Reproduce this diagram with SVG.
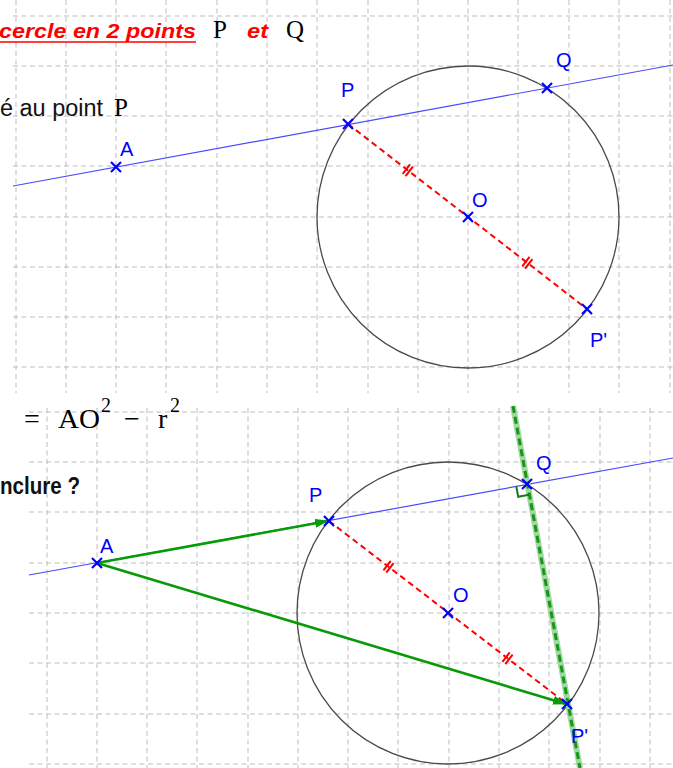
<svg xmlns="http://www.w3.org/2000/svg" width="673" height="768" viewBox="0 0 673 768">
<defs>
<style>
.grid line{stroke:#bdbdbd;stroke-width:1;stroke-dasharray:5,3.5}
.circ{fill:none;stroke:#4a4a4a;stroke-width:1.3}
.bl{stroke:#4a4aff;stroke-width:1.2;fill:none}
.diam{stroke:#ff0000;stroke-width:2;stroke-dasharray:6,4;fill:none}
.tick{stroke:#ff0000;stroke-width:2}
.cross{stroke:#0000ff;stroke-width:2.2;fill:none}
.lbl{font-family:"Liberation Sans",Arial,sans-serif;font-size:20px;fill:#0000ff}
.arr{stroke:#079b07;stroke-width:2.6;fill:none}
.serif{font-family:"Liberation Serif","Times New Roman",serif;fill:#000}
.cal{font-family:"Liberation Sans",Arial,sans-serif}
.red{fill:#ff0000;font-weight:bold;font-style:italic;font-size:20px}
</style>
<marker id="ah" viewBox="0 0 14 9" refX="13" refY="4.5" markerWidth="14" markerHeight="9" markerUnits="userSpaceOnUse" orient="auto">
<path d="M0,0 L14,4.5 L0,9 Z" fill="#079b07"/>
</marker>
<g id="cx"><line class="cross" x1="-5" y1="-5" x2="5" y2="5"/><line class="cross" x1="-5" y1="5" x2="5" y2="-5"/></g>
<g id="tk"><line class="tick" x1="-1.8" y1="-6" x2="-1.8" y2="6"/><line class="tick" x1="1.8" y1="-6" x2="1.8" y2="6"/></g>
</defs>
<rect width="673" height="768" fill="#fff"/>
<g class="grid" id="grid-top">
<line x1="16" y1="0" x2="16" y2="393"/><line x1="66" y1="0" x2="66" y2="393"/><line x1="116" y1="0" x2="116" y2="393"/><line x1="166" y1="0" x2="166" y2="393"/><line x1="217" y1="0" x2="217" y2="393"/><line x1="267" y1="0" x2="267" y2="393"/><line x1="317" y1="0" x2="317" y2="393"/><line x1="368" y1="0" x2="368" y2="393"/><line x1="418" y1="0" x2="418" y2="393"/><line x1="468" y1="0" x2="468" y2="393"/><line x1="518" y1="0" x2="518" y2="393"/><line x1="569" y1="0" x2="569" y2="393"/><line x1="619" y1="0" x2="619" y2="393"/><line x1="670" y1="0" x2="670" y2="393"/>
<line x1="13" y1="16" x2="673" y2="16"/><line x1="13" y1="66" x2="673" y2="66"/><line x1="13" y1="116" x2="673" y2="116"/><line x1="13" y1="166" x2="673" y2="166"/><line x1="13" y1="217" x2="673" y2="217"/><line x1="13" y1="267" x2="673" y2="267"/><line x1="13" y1="317" x2="673" y2="317"/><line x1="13" y1="367" x2="673" y2="367"/>
</g>
<g class="grid" id="grid-bottom">
<line x1="47" y1="408" x2="47" y2="768"/><line x1="97" y1="408" x2="97" y2="768"/><line x1="147" y1="408" x2="147" y2="768"/><line x1="197" y1="408" x2="197" y2="768"/><line x1="248" y1="408" x2="248" y2="768"/><line x1="298" y1="408" x2="298" y2="768"/><line x1="348" y1="408" x2="348" y2="768"/><line x1="398" y1="408" x2="398" y2="768"/><line x1="449" y1="408" x2="449" y2="768"/><line x1="499" y1="408" x2="499" y2="768"/><line x1="549" y1="408" x2="549" y2="768"/><line x1="600" y1="408" x2="600" y2="768"/><line x1="650" y1="408" x2="650" y2="768"/>
<line x1="29" y1="412" x2="673" y2="412"/><line x1="29" y1="462" x2="673" y2="462"/><line x1="29" y1="512" x2="673" y2="512"/><line x1="29" y1="563" x2="673" y2="563"/><line x1="29" y1="613" x2="673" y2="613"/><line x1="29" y1="663" x2="673" y2="663"/><line x1="29" y1="714" x2="673" y2="714"/><line x1="29" y1="764" x2="673" y2="764"/>
</g>
<g id="texts">
<text class="cal red" x="-1" y="37.5" textLength="197" lengthAdjust="spacingAndGlyphs">cercle  en 2 points</text>
<line x1="0" y1="42" x2="196" y2="42" stroke="#ff0000" stroke-width="1.6"/>
<text class="serif" x="213" y="38" font-size="25">P</text>
<text class="cal red" x="247" y="37.5" textLength="21" lengthAdjust="spacingAndGlyphs">et</text>
<text class="serif" x="286" y="38" font-size="25">Q</text>
<text class="cal" x="0" y="116" font-size="23" fill="#111" textLength="103" lengthAdjust="spacingAndGlyphs">é au point</text>
<text class="serif" x="114" y="116" font-size="25">P</text>
<text class="serif" x="24" y="428" font-size="28">=</text>
<text class="serif" x="58" y="428" font-size="28" textLength="42" lengthAdjust="spacingAndGlyphs">AO</text>
<text class="serif" x="101" y="412" font-size="20">2</text>
<text class="serif" x="124" y="428" font-size="28">−</text>
<text class="serif" x="158" y="428" font-size="28">r</text>
<text class="serif" x="170" y="412" font-size="20">2</text>
<text class="cal" x="0" y="494" font-size="23" font-weight="bold" fill="#111" textLength="80" lengthAdjust="spacingAndGlyphs">nclure ?</text>
</g>
<g id="connectors">
<circle class="circ" cx="468" cy="217" r="151"/>
<line class="bl" x1="13" y1="186" x2="673" y2="65"/>
<line class="diam" x1="348" y1="124" x2="587" y2="309"/>
<use href="#tk" transform="translate(407.8,170.3) rotate(37.7)"/>
<use href="#tk" transform="translate(527.3,262.8) rotate(37.7)"/>
<circle class="circ" cx="448" cy="613" r="151"/>
<line class="bl" x1="29" y1="575" x2="673" y2="458"/>
<line class="diam" x1="329" y1="521" x2="567" y2="704"/>
<use href="#tk" transform="translate(388.5,566.8) rotate(37.6)"/>
<use href="#tk" transform="translate(507.5,658.3) rotate(37.6)"/>
<line x1="513" y1="406" x2="580" y2="768" stroke="#9fd99f" stroke-width="6"/>
<line x1="513" y1="406" x2="580" y2="768" stroke="#1a951a" stroke-width="3" stroke-dasharray="7,4"/>
<path d="M516.2,486 L518.2,496.8 L529,494.8" fill="none" stroke="#1a7a1a" stroke-width="2"/>
<line class="arr" x1="97" y1="563" x2="328" y2="521" marker-end="url(#ah)"/>
<line class="arr" x1="97" y1="563" x2="566" y2="704" marker-end="url(#ah)"/>
</g>
<g id="node-A-top"><use href="#cx" x="116" y="167"/><text class="lbl" x="120" y="156">A</text></g>
<g id="node-P-top"><use href="#cx" x="348" y="124"/><text class="lbl" x="341" y="97">P</text></g>
<g id="node-Q-top"><use href="#cx" x="547" y="88"/><text class="lbl" x="556" y="67">Q</text></g>
<g id="node-O-top"><use href="#cx" x="468" y="217"/><text class="lbl" x="472" y="207">O</text></g>
<g id="node-P2-top"><use href="#cx" x="587" y="309"/><text class="lbl" x="590" y="347">P'</text></g>
<g id="node-A-bot"><use href="#cx" x="97" y="563"/><text class="lbl" x="100" y="553">A</text></g>
<g id="node-P-bot"><use href="#cx" x="329" y="521"/><text class="lbl" x="309" y="502">P</text></g>
<g id="node-Q-bot"><use href="#cx" x="527" y="484"/><text class="lbl" x="536" y="470">Q</text></g>
<g id="node-O-bot"><use href="#cx" x="448" y="613"/><text class="lbl" x="453" y="602">O</text></g>
<g id="node-P2-bot"><use href="#cx" x="567" y="704"/><text class="lbl" x="571" y="743">P'</text></g>
</svg>
